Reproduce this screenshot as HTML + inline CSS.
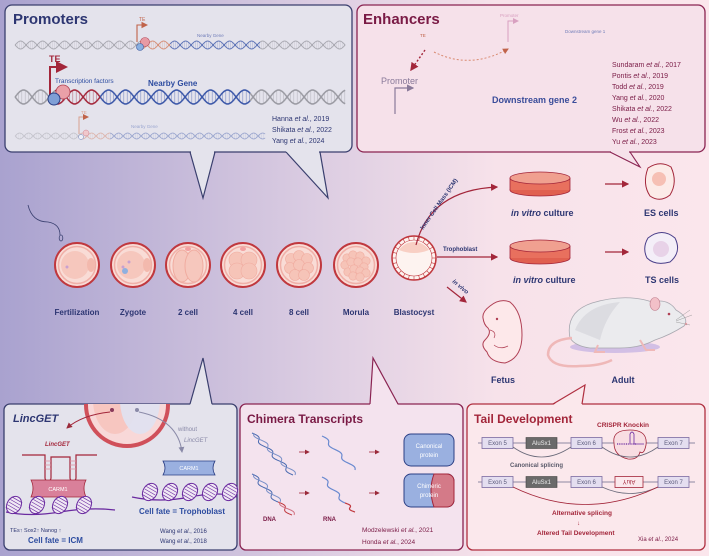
<!DOCTYPE html>
<html><head><meta charset="utf-8"><style>
html,body{margin:0;padding:0;width:709px;height:556px;overflow:hidden}
svg{display:block;font-family:"Liberation Sans",sans-serif}
</style></head><body>
<svg id="s" width="709" height="556" viewBox="0 0 709 556" xmlns="http://www.w3.org/2000/svg">
<defs>
<linearGradient id="bg" x1="0" y1="0" x2="1" y2="0">
<stop offset="0" stop-color="#a9a2cf"/><stop offset="0.45" stop-color="#dccde2"/><stop offset="0.7" stop-color="#f7e2ea"/><stop offset="1" stop-color="#fbe6ec"/></linearGradient>
<clipPath id="clipL"><rect x="4" y="404" width="233" height="146" rx="6"/></clipPath>
<marker id="ar" markerWidth="6" markerHeight="6" refX="5" refY="3" orient="auto"><path d="M0,0 L6,3 L0,6 Z" fill="#a3263a"/></marker>
<marker id="arg" markerWidth="6" markerHeight="6" refX="5" refY="3" orient="auto"><path d="M0,0 L6,3 L0,6 Z" fill="#8a8aa8"/></marker>
<marker id="arp" markerWidth="6" markerHeight="6" refX="5" refY="3" orient="auto"><path d="M0,0 L6,3 L0,6 Z" fill="#9a2a3a"/></marker>
<marker id="arv" markerWidth="6" markerHeight="6" refX="5" refY="3" orient="auto"><path d="M0,0 L6,3 L0,6 Z" fill="#d8a0c0"/></marker>
<marker id="arm" markerWidth="6" markerHeight="6" refX="5" refY="3" orient="auto"><path d="M0,0 L6,3 L0,6 Z" fill="#8a7a9a"/></marker>
<marker id="aro" markerWidth="6" markerHeight="6" refX="5" refY="3" orient="auto"><path d="M0,0 L6,3 L0,6 Z" fill="#c0634a"/></marker>
</defs>
<rect width="709" height="556" fill="url(#bg)"/>

<polygon points="190,150 203,198 215,150" fill="#e4e3ec"/>
<polygon points="285,150 328,198 320,150" fill="#e4e3ec"/>
<rect x="5" y="5" width="347" height="147" rx="7" fill="#e4e3ec" stroke="#3a3f6e" stroke-width="1.3"/>
<rect x="191" y="150" width="23" height="4" fill="#e4e3ec"/>
<rect x="286" y="150" width="33" height="4" fill="#e4e3ec"/>
<polyline points="190,152 203,198 215,152" fill="none" stroke="#3a3f6e" stroke-width="1.2"/>
<polyline points="286,152 328,198 320,152" fill="none" stroke="#3a3f6e" stroke-width="1.2"/>
<text x="13" y="24" font-size="15" font-weight="bold" fill="#2d3672">Promoters</text>
<g id="helices"></g>
<path d="M137,42 V25 H147" stroke="#c0634a" stroke-width="1.1" fill="none" marker-end="url(#aro)"/>
<text x="139" y="21" font-size="5" fill="#c0634a">TE</text>
<text x="197" y="37" font-size="4.5" fill="#6f7cb8">Nearby Gene</text>
<circle cx="145" cy="42" r="4.5" fill="#e79aa4" stroke="#b24455" stroke-width="0.6"/>
<circle cx="140" cy="47" r="3.5" fill="#8ab0e0" stroke="#3b5aa0" stroke-width="0.6"/>

<path d="M50,96 V67 H66" stroke="#a3263a" stroke-width="2" fill="none" marker-end="url(#ar)"/>
<text x="49" y="62" font-size="9" font-weight="bold" fill="#a3263a">TE</text>
<text x="55" y="83" font-size="6.5" fill="#2d4ca0">Transcription factors</text>
<text x="148" y="86" font-size="8" font-weight="bold" fill="#2d4ca0">Nearby Gene</text>
<circle cx="63" cy="92" r="7" fill="#eaa0a8" stroke="#b24455" stroke-width="0.8"/>
<circle cx="54" cy="99" r="6" fill="#7f9fd6" stroke="#2b3f85" stroke-width="1"/>

<path d="M79,134 V117 H88" stroke="#d9a090" stroke-width="1" fill="none" marker-end="url(#aro)"/>
<text x="81" y="114" font-size="4.5" fill="#d9a090">TE</text>
<text x="131" y="128" font-size="4.5" fill="#9aa6d0">Nearby Gene</text>
<circle cx="86" cy="133" r="3" fill="#f0c8cc" stroke="#d08090" stroke-width="0.5"/>
<circle cx="81" cy="137" r="2.5" fill="#eef0f8" stroke="#7080b8" stroke-width="0.5"/>
<g font-size="7" fill="#2d3672">
<text x="272" y="121">Hanna <tspan font-style="italic">et al.</tspan>, 2019</text>
<text x="272" y="132">Shikata <tspan font-style="italic">et al.</tspan>, 2022</text>
<text x="272" y="143">Yang <tspan font-style="italic">et al.</tspan>, 2024</text>
</g>

<polygon points="610,150 640,167 630,150" fill="#f6e1ea"/>
<rect x="357" y="5" width="348" height="147" rx="7" fill="#f6e1ea" stroke="#8a2452" stroke-width="1.3"/>
<rect x="611" y="150" width="18" height="4" fill="#f6e1ea"/>
<polyline points="610,152 640,167 630,152" fill="none" stroke="#8a2452" stroke-width="1.1"/>
<text x="363" y="24" font-size="15" font-weight="bold" fill="#7a1a45">Enhancers</text>
<text x="420" y="37" font-size="4.5" fill="#c0634a">TE</text>
<path d="M508,42 V21 H518" stroke="#d8a0c0" stroke-width="1" fill="none" marker-end="url(#arv)"/>
<text x="500" y="17" font-size="4.5" fill="#d8a0c0">Promoter</text>
<text x="565" y="33" font-size="4.5" fill="#6f7cb8">Downstream gene 1</text>
<path d="M425,50 L411,70" stroke="#a3263a" stroke-width="1.4" stroke-dasharray="2,2" fill="none" marker-end="url(#ar)"/>
<path d="M434,52 Q470,70 508,49" stroke="#d98a70" stroke-width="1" stroke-dasharray="2,2" fill="none" marker-end="url(#aro)"/>
<text x="381" y="84" font-size="9" fill="#8a7a9a">Promoter</text>
<path d="M395,114 V88 H413" stroke="#8a7a9a" stroke-width="1.2" fill="none" marker-end="url(#arm)"/>
<text x="492" y="103" font-size="9" font-weight="bold" fill="#3a4c9a">Downstream gene 2</text>
<g font-size="7" fill="#7a1a45">
<text x="612" y="67">Sundaram <tspan font-style="italic">et al.</tspan>, 2017</text>
<text x="612" y="78">Pontis <tspan font-style="italic">et al.</tspan>, 2019</text>
<text x="612" y="89">Todd <tspan font-style="italic">et al.</tspan>, 2019</text>
<text x="612" y="100">Yang <tspan font-style="italic">et al.</tspan>, 2020</text>
<text x="612" y="111">Shikata <tspan font-style="italic">et al.</tspan>, 2022</text>
<text x="612" y="122">Wu <tspan font-style="italic">et al.</tspan>, 2022</text>
<text x="612" y="133">Frost <tspan font-style="italic">et al.</tspan>, 2023</text>
<text x="612" y="144">Yu <tspan font-style="italic">et al.</tspan>, 2023</text>
</g>

<path d="M28,205 Q32,222 48,222 Q60,224 60,235" stroke="#3a4070" stroke-width="0.8" fill="none"/>
<ellipse cx="61" cy="238" rx="1.8" ry="3" fill="none" stroke="#3a4070" stroke-width="0.8"/>

<g id="embryos"></g>
<g font-size="8" font-weight="bold" fill="#2d3672" text-anchor="middle">
<text x="77" y="315">Fertilization</text><text x="133" y="315">Zygote</text><text x="188" y="315">2 cell</text>
<text x="243" y="315">4 cell</text><text x="299" y="315">8 cell</text><text x="356" y="315">Morula</text><text x="414" y="315">Blastocyst</text>
</g>

<path d="M416,245 Q430,190 497,187" stroke="#a3263a" stroke-width="1.2" fill="none" marker-end="url(#ar)"/>
<text transform="translate(423,230) rotate(-55)" font-size="6" font-weight="bold" fill="#2d3672">Inner Cell Mass (ICM)</text>
<line x1="437" y1="257" x2="497" y2="257" stroke="#a3263a" stroke-width="1.2" marker-end="url(#ar)"/>
<text x="443" y="251" font-size="6" font-weight="bold" fill="#2d3672">Trophoblast</text>
<line x1="447" y1="287" x2="466" y2="302" stroke="#a3263a" stroke-width="1.2" marker-end="url(#ar)"/>
<text transform="translate(452,282) rotate(40)" font-size="6" font-weight="bold" font-style="italic" fill="#2d3672">in vivo</text>

<g id="dishes"></g>
<g font-size="9" font-weight="bold" fill="#2d3672">
<text x="511" y="216"><tspan font-style="italic">in vitro</tspan> culture</text>
<text x="513" y="283"><tspan font-style="italic">in vitro</tspan> culture</text>
<text x="644" y="216">ES cells</text><text x="645" y="283">TS cells</text>
</g>
<line x1="605" y1="184" x2="628" y2="184" stroke="#a3263a" stroke-width="1.2" marker-end="url(#ar)"/>
<line x1="605" y1="252" x2="628" y2="252" stroke="#a3263a" stroke-width="1.2" marker-end="url(#ar)"/>
<path d="M648,168 Q660,160 671,167 Q678,182 670,195 Q660,203 650,196 Q642,184 648,168Z" fill="#fcebe8" stroke="#a3263a" stroke-width="1"/>
<circle cx="659" cy="179" r="7" fill="#f6c0b4"/>
<path d="M648,238 Q662,227 675,238 Q682,252 670,262 Q655,266 647,258 Q642,248 648,238Z" fill="#f4eef8" stroke="#4a3f8a" stroke-width="1"/>
<circle cx="661" cy="249" r="8" fill="#e8d2e8"/>

<path d="M490,306 Q500,298 510,302 Q522,312 522,335 Q522,358 505,363 Q490,362 487,352 Q480,345 485,340 Q492,333 488,328 Q484,325 483,318 Q482,312 490,306Z" fill="#fde8ea" stroke="#b04055" stroke-width="1"/>
<path d="M490,330 Q497,332 494,338" stroke="#b04055" stroke-width="0.7" fill="none"/>
<path d="M494,345 Q500,350 508,346" stroke="#b04055" stroke-width="0.7" fill="none"/>
<circle cx="497" cy="319" r="1.2" fill="#b04055"/>
<ellipse cx="615" cy="347" rx="45" ry="6" fill="#cbb8e4" opacity="0.85"/>
<path d="M570,338 Q565,312 592,303 Q625,293 652,302 Q668,298 676,310 Q690,318 684,326 Q670,335 655,340 Q640,348 620,348 L590,348 Q575,346 570,338Z" fill="#ebebee" stroke="#a8a8b0" stroke-width="0.8"/>
<path d="M575,330 Q585,305 620,302 Q605,318 600,340 Z" fill="#d6d6dc" opacity="0.7"/>
<ellipse cx="655" cy="304" rx="5" ry="6.5" fill="#f2c0c8" stroke="#c08090" stroke-width="0.6"/>
<circle cx="669" cy="314" r="1.3" fill="#b04055"/>
<circle cx="686" cy="324" r="1.2" fill="#e8a0a8"/>
<g stroke="#888" stroke-width="0.4"><line x1="676" y1="320" x2="690" y2="310"/><line x1="676" y1="321" x2="692" y2="315"/><line x1="676" y1="322" x2="690" y2="325"/></g>
<path d="M572,338 Q548,340 548,355 Q552,368 580,366 Q600,366 612,360" stroke="#efb8b8" stroke-width="2.5" fill="none"/>
<path d="M598,345 L595,352 L605,352 M640,340 L646,350 L655,350" stroke="#efb8b8" stroke-width="2" fill="none"/>
<g font-size="9" font-weight="bold" fill="#2d3672" text-anchor="middle"><text x="503" y="383">Fetus</text><text x="623" y="383">Adult</text></g>

<rect x="4" y="404" width="233" height="146" rx="6" fill="#e4e3ec" stroke="#3a3f6e" stroke-width="1.3"/>
<polygon points="190,405 203,358 212,405" fill="#e4e3ec"/>
<polyline points="190,404 203,358 212,404" fill="none" stroke="#3a3f6e" stroke-width="1.2"/>
<rect x="240" y="404" width="223" height="146" rx="6" fill="#f4e3ee" stroke="#8a2452" stroke-width="1.3"/>
<polygon points="370,405 373,358 398,405" fill="#f4e3ee"/>
<polyline points="370,404 373,358 398,404" fill="none" stroke="#8a2452" stroke-width="1.2"/>
<rect x="467" y="404" width="238" height="146" rx="6" fill="#fbe8ec" stroke="#b02f40" stroke-width="1.3"/>
<polygon points="553,405 585,385 582,405" fill="#fbe8ec"/>
<polyline points="553,404 585,385 582,404" fill="none" stroke="#b02f40" stroke-width="1.2"/>

<g clip-path="url(#clipL)">
<circle cx="127" cy="405" r="41" fill="#f8d8d8" stroke="#d0505a" stroke-width="4"/>
<ellipse cx="115" cy="400" rx="22" ry="34" fill="#f7c6c0"/>
<ellipse cx="140" cy="400" rx="20" ry="34" fill="#dfe2f2" opacity="0.9"/>
</g>
<circle cx="112" cy="410" r="2" fill="#8a3a5a"/><circle cx="137" cy="410" r="2" fill="#8a8aa8"/>
<path d="M110,412 Q82,415 67,428" stroke="#a3263a" stroke-width="1" fill="none" marker-end="url(#arp)"/>
<path d="M139,412 Q178,420 182,452" stroke="#8a8aa8" stroke-width="1" fill="none" marker-end="url(#arg)"/>
<text x="13" y="422" font-size="11" font-weight="bold" font-style="italic" fill="#2d3672">LincGET</text>
<text x="45" y="446" font-size="6" font-weight="bold" font-style="italic" fill="#a3263a">LincGET</text>
<text x="178" y="431" font-size="6" fill="#8a8aa8">without</text>
<text x="184" y="442" font-size="6" font-style="italic" fill="#8a8aa8">LincGET</text>
<path d="M22,455 H45 V478 A3,3 0 0 0 51,478 V457 H70 V478 A3,3 0 0 0 76,478 V455 H97" stroke="#a3263a" stroke-width="1.2" fill="none"/>
<g stroke="#e090a0" stroke-width="0.8"><line x1="45" y1="461" x2="51" y2="461"/><line x1="45" y1="465" x2="51" y2="465"/><line x1="45" y1="469" x2="51" y2="469"/><line x1="70" y1="461" x2="76" y2="461"/><line x1="70" y1="465" x2="76" y2="465"/><line x1="70" y1="469" x2="76" y2="469"/></g>
<path d="M31,480 H86 Q82,488 86,497 H31 Q35,488 31,480Z" fill="#d9809a" stroke="#a3263a" stroke-width="0.8"/>
<text x="58" y="491" font-size="5.5" fill="#fff" text-anchor="middle">CARM1</text>
<path d="M163,461 H215 Q211,468 215,475 H163 Q167,468 163,461Z" fill="#9ab0e0" stroke="#2b3f85" stroke-width="0.8"/>
<text x="189" y="470" font-size="5.5" fill="#fff" text-anchor="middle">CARM1</text>
<g id="nuc"></g>
<text x="139" y="514" font-size="8" font-weight="bold" fill="#2d4ca0">Cell fate = Trophoblast</text>
<text x="10" y="532" font-size="5.5" fill="#2d3672">TEs↑     Sox2↑    Nanog ↑</text>
<text x="28" y="543" font-size="8" font-weight="bold" fill="#2d4ca0">Cell fate = ICM</text>
<g font-size="6" fill="#2d3672"><text x="160" y="533">Wang <tspan font-style="italic">et al.</tspan>, 2016</text><text x="160" y="543">Wang <tspan font-style="italic">et al.</tspan>, 2018</text></g>

<text x="247" y="423" font-size="12" font-weight="bold" fill="#7a1a45">Chimera Transcripts</text>
<g id="chim"></g>
<g stroke="#a3263a" stroke-width="0.8"><line x1="299" y1="452" x2="309" y2="452" marker-end="url(#arp)"/><line x1="369" y1="452" x2="379" y2="452" marker-end="url(#arp)"/><line x1="299" y1="493" x2="309" y2="493" marker-end="url(#arp)"/><line x1="369" y1="493" x2="379" y2="493" marker-end="url(#arp)"/></g>
<rect x="404" y="434" width="50" height="32" rx="7" fill="#9ab0e0" stroke="#2b3f85" stroke-width="1"/>
<text x="429" y="448" font-size="6" fill="#fff" text-anchor="middle">Canonical</text><text x="429" y="457" font-size="6" fill="#fff" text-anchor="middle">protein</text>
<rect x="404" y="474" width="50" height="33" rx="7" fill="#9ab0e0" stroke="#2b3f85" stroke-width="1"/>
<path d="M434,474 H447 A7,7 0 0 1 454,481 V500 A7,7 0 0 1 447,507 H434 Q428,490 434,474Z" fill="#d47a88" stroke="#a3263a" stroke-width="1"/>
<text x="429" y="488" font-size="6" fill="#fff" text-anchor="middle">Chimeric</text><text x="429" y="497" font-size="6" fill="#fff" text-anchor="middle">protein</text>
<text x="263" y="521" font-size="6" font-weight="bold" fill="#7a1a45">DNA</text>
<text x="323" y="521" font-size="6" font-weight="bold" fill="#7a1a45">RNA</text>
<g font-size="6.5" fill="#7a1a45"><text x="362" y="532">Modzelewski <tspan font-style="italic">et al.</tspan>, 2021</text><text x="362" y="544">Honda <tspan font-style="italic">et al.</tspan>, 2024</text></g>

<text x="474" y="423" font-size="12" font-weight="bold" fill="#a3263a">Tail Development</text>
<text x="597" y="427" font-size="6.5" font-weight="bold" fill="#a3263a">CRISPR Knockin</text>
<g id="tail"></g>
<text x="510" y="467" font-size="6" font-weight="bold" fill="#5a5a6a">Canonical splicing</text>
<text x="552" y="515" font-size="6.5" font-weight="bold" fill="#a3263a">Alternative splicing</text>
<text x="577" y="525" font-size="6" fill="#a3263a">↓</text>
<text x="537" y="535" font-size="6.5" font-weight="bold" fill="#a3263a">Altered Tail Development</text>
<text x="638" y="541" font-size="6" fill="#7a1a45">Xia <tspan font-style="italic">et al.</tspan>, 2024</text>
</svg>
<script>
var NS="http://www.w3.org/2000/svg";
function el(p,t,a){var e=document.createElementNS(NS,t);for(var k in a)e.setAttribute(k,a[k]);p.appendChild(e);return e;}
function helix(g,x0,x1,y,amp,per,segs,sw,op){
 function col(x){for(var i=0;i<segs.length;i++)if(x>=segs[i][0]&&x<segs[i][1])return segs[i][2];return segs[segs.length-1][2];}
 for(var x=x0;x<x1;x+=per/10){var c=col(x);var a=Math.sin((x-x0)/per*2*Math.PI)*amp;
  el(g,'line',{x1:x,y1:y+a,x2:x,y2:y-a,stroke:c,'stroke-width':sw*0.4,opacity:op*0.6});}
 for(var s=-1;s<=1;s+=2){for(var x=x0;x<x1;x+=1){var c=col(x);
  var ya=y+s*Math.sin((x-x0)/per*2*Math.PI)*amp,yb=y+s*Math.sin((x+1-x0)/per*2*Math.PI)*amp;
  el(g,'line',{x1:x,y1:ya,x2:x+1.2,y2:yb,stroke:c,'stroke-width':sw,opacity:op});}}
}
var H=document.getElementById('helices');
var G='#9a9aa2',B='#3a56a8',R='#a3263a',O='#d27a5a',P='#c080b0';
helix(H,15,345,45,4,22,[[0,140,G],[140,170,O],[170,260,B],[260,999,G]],0.9,0.8);
helix(H,15,345,97,7,34,[[0,55,G],[55,100,R],[100,250,B],[250,999,G]],1.5,1);
helix(H,15,265,136,3,18,[[0,80,G],[80,110,O],[110,999,B]],0.8,0.4);
helix(H,362,698,45,4,22,[[0,415,G],[415,445,O],[445,505,G],[505,540,P],[540,640,B],[640,999,G]],0.9,0.8);
helix(H,362,605,117,7,34,[[0,395,G],[395,440,'#8a5a7a'],[440,999,B]],1.5,1);
var E=document.getElementById('embryos');
var xs=[77,133,188,243,299,356,414];
xs.forEach(function(cx,i){var cy=265;
 if(i<6){el(E,'circle',{cx:cx,cy:cy,r:22,fill:'#f9dcd6',stroke:'#c0383e','stroke-width':2});
  el(E,'circle',{cx:cx,cy:cy,r:18.5,fill:'none',stroke:'#f0b0a8','stroke-width':1.5});
  if(i<2){el(E,'circle',{cx:cx-2,cy:cy,r:14,fill:'#f6c7bd'});el(E,'ellipse',{cx:cx+14,cy:cy,rx:4,ry:7,fill:'#f3b9ad'});
   el(E,'circle',{cx:cx-10,cy:cy+2,r:1.5,fill:'#c8a0d0'});if(i==1){el(E,'circle',{cx:cx-8,cy:cy+6,r:3,fill:'#8fb0e0'});el(E,'circle',{cx:cx-4,cy:cy-3,r:1.5,fill:'#c8a0d0'});}}
  else if(i==2){el(E,'ellipse',{cx:cx-6,cy:cy+1,rx:9,ry:16,fill:'#f6c7bd',stroke:'#f0aca0'});el(E,'ellipse',{cx:cx+6,cy:cy+1,rx:9,ry:16,fill:'#f6c7bd',stroke:'#f0aca0'});el(E,'ellipse',{cx:cx,cy:cy-16,rx:3,ry:2,fill:'#f3a0a0'});}
  else if(i==3){[[-6,-5],[6,-5],[-6,6],[6,6]].forEach(function(d){el(E,'circle',{cx:cx+d[0],cy:cy+d[1],r:8,fill:'#f6c4b8',stroke:'#f0aca0','stroke-width':0.6});});el(E,'ellipse',{cx:cx,cy:cy-16,rx:3,ry:2,fill:'#f3a0a0'});}
  else{var pts=i==4?[[-8,-6],[0,-9],[8,-6],[-9,3],[0,0],[9,3],[-4,10],[5,10]]:[[-9,-7],[-3,-10],[4,-9],[10,-4],[-11,0],[-5,-3],[2,-3],[8,2],[-8,7],[-2,4],[4,6],[10,8],[-3,11],[4,12]];var rr=i==4?5.5:4.2;
   pts.forEach(function(d){el(E,'circle',{cx:cx+d[0],cy:cy+d[1],r:rr,fill:'#f6c4b8',stroke:'#f0aca0','stroke-width':0.6});});}
 } else {cy=258;
  el(E,'circle',{cx:cx,cy:cy,r:22,fill:'#fdf3f0',stroke:'#c0383e','stroke-width':1.5});
  el(E,'circle',{cx:cx,cy:cy,r:18,fill:'none',stroke:'#c0383e','stroke-width':0.6});
  for(var k=0;k<24;k++){var a=k/24*6.283;el(E,'line',{x1:cx+Math.cos(a)*18,y1:cy+Math.sin(a)*18,x2:cx+Math.cos(a)*22,y2:cy+Math.sin(a)*22,stroke:'#c0383e','stroke-width':0.6});}
  el(E,'path',{d:'M'+(cx-15)+','+(cy-8)+' Q'+cx+','+(cy-2)+' '+(cx+15)+','+(cy-8)+' A18,18 0 0 0 '+(cx-15)+','+(cy-8)+'Z',fill:'#f8cfc4'});
 }
});
var D=document.getElementById('dishes');
[[540,184],[540,252]].forEach(function(p){var cx=p[0],cy=p[1];
 el(D,'ellipse',{cx:cx,cy:cy+6,rx:30,ry:6,fill:'#e06050',stroke:'#a3263a','stroke-width':0.8});
 el(D,'rect',{x:cx-30,y:cy-6,width:60,height:12,fill:'#e8705e'});
 el(D,'line',{x1:cx-30,y1:cy-6,x2:cx-30,y2:cy+6,stroke:'#a3263a','stroke-width':0.8});
 el(D,'line',{x1:cx+30,y1:cy-6,x2:cx+30,y2:cy+6,stroke:'#a3263a','stroke-width':0.8});
 el(D,'ellipse',{cx:cx,cy:cy-6,rx:30,ry:6,fill:'#f0a090',stroke:'#a3263a','stroke-width':0.8});
});
var N=document.getElementById('nuc');
el(N,'path',{d:'M6,512 Q30,517 60,512 T115,510',stroke:'#6a2aa0','stroke-width':1.2,fill:'none'});
el(N,'path',{d:'M132,497 Q160,503 190,497 T237,497',stroke:'#6a2aa0','stroke-width':1.2,fill:'none'});
[[14,505],[37,505],[60,505],[84,505],[150,492],[170,492],[190,492],[210,492],[230,492]].forEach(function(p){
 var g=el(N,'g',{transform:'translate('+p[0]+','+p[1]+') rotate(30)'});
 el(g,'ellipse',{cx:0,cy:0,rx:7,ry:9,fill:'#f0e8f4',stroke:'#6a2aa0','stroke-width':1});
 for(var k=-6;k<=6;k+=3)el(g,'line',{x1:-6,y1:k,x2:6,y2:k,stroke:'#6a2aa0','stroke-width':0.6});
});
var C=document.getElementById('chim');
function wave(g,x0,y0,x1,y1,amp,n,c,sw){var d='';for(var k=0;k<=40;k++){var t=k/40;var x=x0+(x1-x0)*t,y=y0+(y1-y0)*t;var o=Math.sin(t*n*6.283)*amp;d+=(k?'L':'M')+(x+o)+','+(y)+' ';}el(g,'path',{d:d,stroke:c,'stroke-width':sw,fill:'none'});}
wave(C,252,433,293,475,3,3,'#4a6ab0',1);wave(C,254,433,295,475,-3,3,'#7a90c8',1);
wave(C,252,474,278,502,3,2,'#4a6ab0',1);wave(C,254,474,280,502,-3,2,'#7a90c8',1);
wave(C,278,502,292,515,3,1,'#c0383e',1);wave(C,280,502,294,515,-3,1,'#d07080',1);
wave(C,322,436,355,470,2.5,2.5,'#6a8ad0',1.2);wave(C,322,477,345,503,2.5,2,'#6a8ad0',1.2);wave(C,345,503,355,512,2.5,1,'#c0383e',1.2);
var T=document.getElementById('tail');
function exrow(y,inv){el(T,'line',{x1:478,y1:y,x2:695,y2:y,stroke:'#6a6a8a','stroke-width':0.8});
 [[482,'Exon 5'],[571,'Exon 6'],[658,'Exon 7']].forEach(function(e){el(T,'rect',{x:e[0],y:y-5.5,width:31,height:11,fill:'#e4def0',stroke:'#7a6aa0','stroke-width':0.8});var t=el(T,'text',{x:e[0]+15.5,y:y+2.2,'font-size':6,fill:'#5a5a7a','text-anchor':'middle'});t.textContent=e[1];});
 el(T,'rect',{x:526,y:y-5.5,width:31,height:11,fill:'#6a6a6a',stroke:'#444','stroke-width':0.6});var t=el(T,'text',{x:541.5,y:y+2.2,'font-size':6,fill:'#eee','text-anchor':'middle'});t.textContent='AluSx1';
 if(inv){el(T,'rect',{x:615,y:y-5.5,width:28,height:11,fill:'#fbe8ec',stroke:'#a3263a','stroke-width':0.8});var t2=el(T,'text',{x:629,y:y+2.2,'font-size':6,fill:'#a3263a','text-anchor':'middle',transform:'rotate(180 629 '+(y)+')'});t2.textContent='AluY';}
}
exrow(443,false);exrow(482,true);
el(T,'path',{d:'M614,443 Q612,430 630,430 Q648,430 646,445 Q644,455 640,452 Q638,460 628,459 Q614,456 614,443Z',fill:'#f8dde2',stroke:'#a3263a','stroke-width':0.8});
el(T,'line',{x1:617,y1:444,x2:636,y2:444,stroke:'#6a2aa0','stroke-width':1.2,'stroke-dasharray':'1,0.8'});
el(T,'path',{d:'M630,444 V434 Q632,430 634,434 V444 H644',stroke:'#6a2aa0','stroke-width':0.8,fill:'none'});
el(T,'path',{d:'M513,447 Q541,467 571,447',stroke:'#6a6a7a','stroke-width':0.8,fill:'none'});
el(T,'path',{d:'M602,447 Q630,467 658,447',stroke:'#6a6a7a','stroke-width':0.8,fill:'none'});
el(T,'path',{d:'M602,487 Q630,500 658,487',stroke:'#6a6a7a','stroke-width':0.8,fill:'none'});
el(T,'path',{d:'M513,487 Q585,522 658,487',stroke:'#a3263a','stroke-width':0.8,fill:'none'});
</script>
</body></html>
